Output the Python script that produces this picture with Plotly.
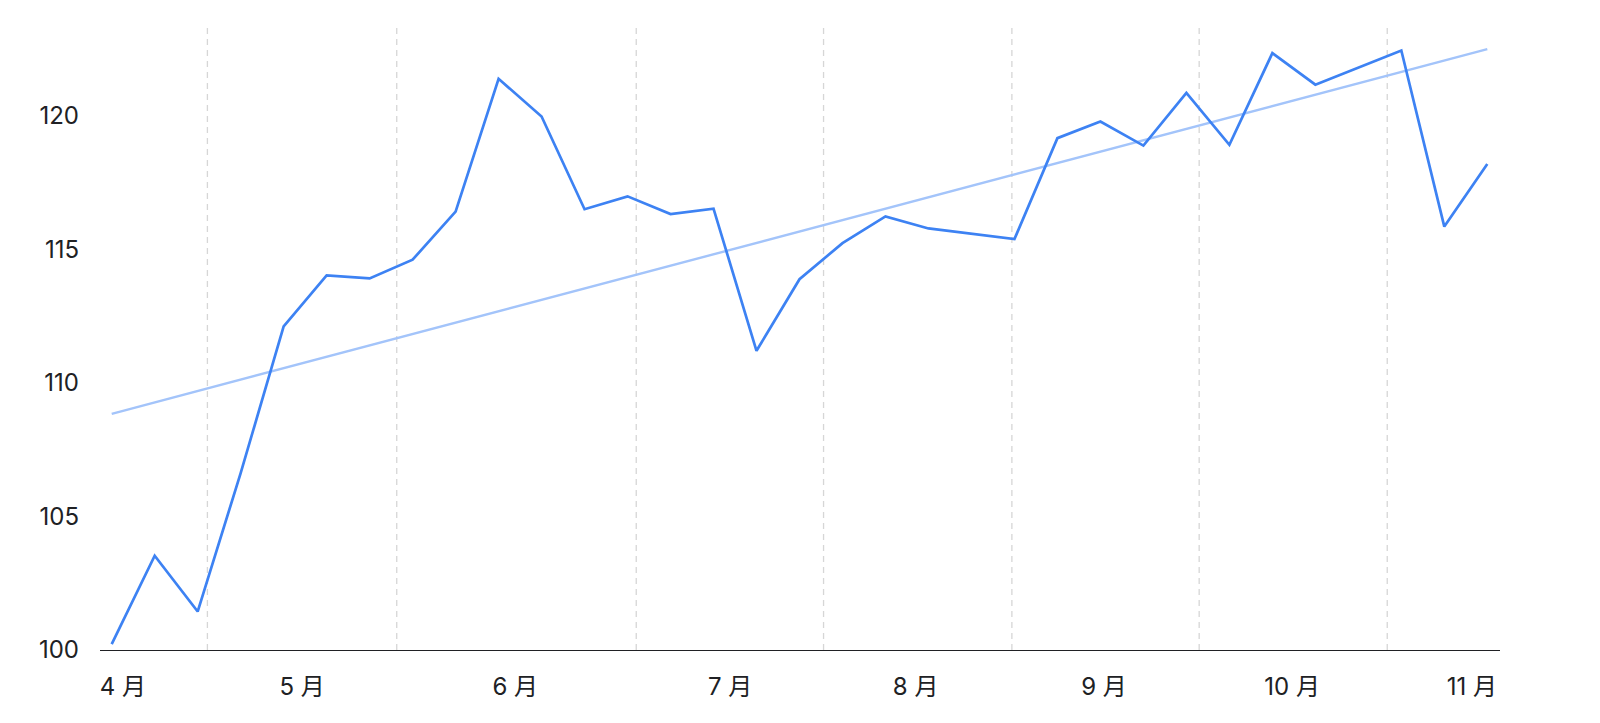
import plotly.graph_objects as go

# Weekly observations
dates = [
    "2023-04-14", "2023-04-21", "2023-04-28", "2023-05-05", "2023-05-12",
    "2023-05-19", "2023-05-26", "2023-06-02", "2023-06-09", "2023-06-16",
    "2023-06-23", "2023-06-30", "2023-07-07", "2023-07-14", "2023-07-21",
    "2023-07-28", "2023-08-04", "2023-08-11", "2023-08-18", "2023-08-25",
    "2023-09-08", "2023-09-15", "2023-09-22", "2023-09-29", "2023-10-06",
    "2023-10-13", "2023-10-20", "2023-10-27", "2023-11-10", "2023-11-17",
    "2023-11-24",
]
values = [
    100.22, 103.53, 101.44, 106.62, 112.11,
    114.02, 113.91, 114.61, 116.41, 121.38,
    119.97, 116.50, 116.98, 116.32, 116.52,
    111.20, 113.88, 115.23, 116.23, 115.78,
    115.38, 119.16, 119.78, 118.88, 120.85,
    118.91, 122.34, 121.16, 122.44, 115.85,
    118.19,
]

# Trend line end points
trend_dates = ["2023-04-14", "2023-11-24"]
trend_values = [108.84, 122.49]

# Month dividers (dashed vertical gridlines)
month_dividers = [
    "2023-04-29 14:00", "2023-05-30 10:00", "2023-07-08 10:00",
    "2023-08-07 22:00", "2023-09-07 14:00", "2023-10-08 02:00",
    "2023-11-07 17:00",
]

# Month labels
tick_positions = [
    "2023-04-15 20:00", "2023-05-15 00:00", "2023-06-18 17:00",
    "2023-07-23 17:00", "2023-08-22 22:00", "2023-09-22 14:00",
    "2023-10-23 05:00", "2023-11-21 12:00",
]
tick_labels = ["4 月", "5 月", "6 月", "7 月", "8 月", "9 月", "10 月", "11 月"]

y_ticks = [100, 105, 110, 115, 120]
x_range = ["2023-04-12 02:17", "2023-11-26 01:38"]
y_range = [100, 123.32]

FONT = "Inter, 'Noto Sans CJK SC', sans-serif"

fig = go.Figure()

fig.add_trace(go.Scatter(
    x=trend_dates, y=trend_values, mode="lines",
    line=dict(color="#a3c4fa", width=2.4),
    hoverinfo="skip", showlegend=False,
))
fig.add_trace(go.Scatter(
    x=dates, y=values, mode="lines",
    line=dict(color="#3d82f3", width=2.7),
    showlegend=False,
))

for d in month_dividers:
    fig.add_shape(
        type="line", xref="x", yref="y domain",
        x0=d, x1=d, y0=0, y1=1,
        line=dict(color="#d6d6d6", width=1.3, dash="6px,5px"),
        layer="below",
    )

fig.update_layout(
    width=1600, height=723,
    margin=dict(l=100, r=100, t=27, b=73, pad=0),
    paper_bgcolor="white", plot_bgcolor="white",
    font=dict(family=FONT, size=24, color="#202124"),
    showlegend=False,
)
fig.update_xaxes(
    type="date", range=x_range,
    tickmode="array", tickvals=tick_positions, ticktext=tick_labels,
    showgrid=False, zeroline=False,
    showline=True, linecolor="#202124", linewidth=1.3,
    ticks="", ticklabelstandoff=15,
    tickfont=dict(family=FONT, size=24, color="#202124"),
)
fig.update_yaxes(
    range=y_range, tickmode="array", tickvals=y_ticks,
    showgrid=False, zeroline=False, showline=False,
    ticks="", ticklabelstandoff=20,
    tickfont=dict(family=FONT, size=24, color="#202124"),
)

fig.write_html(
    "out.html",
    config={"displayModeBar": False},
    post_script="document.body.style.margin='0';document.body.style.overflow='hidden';",
)
